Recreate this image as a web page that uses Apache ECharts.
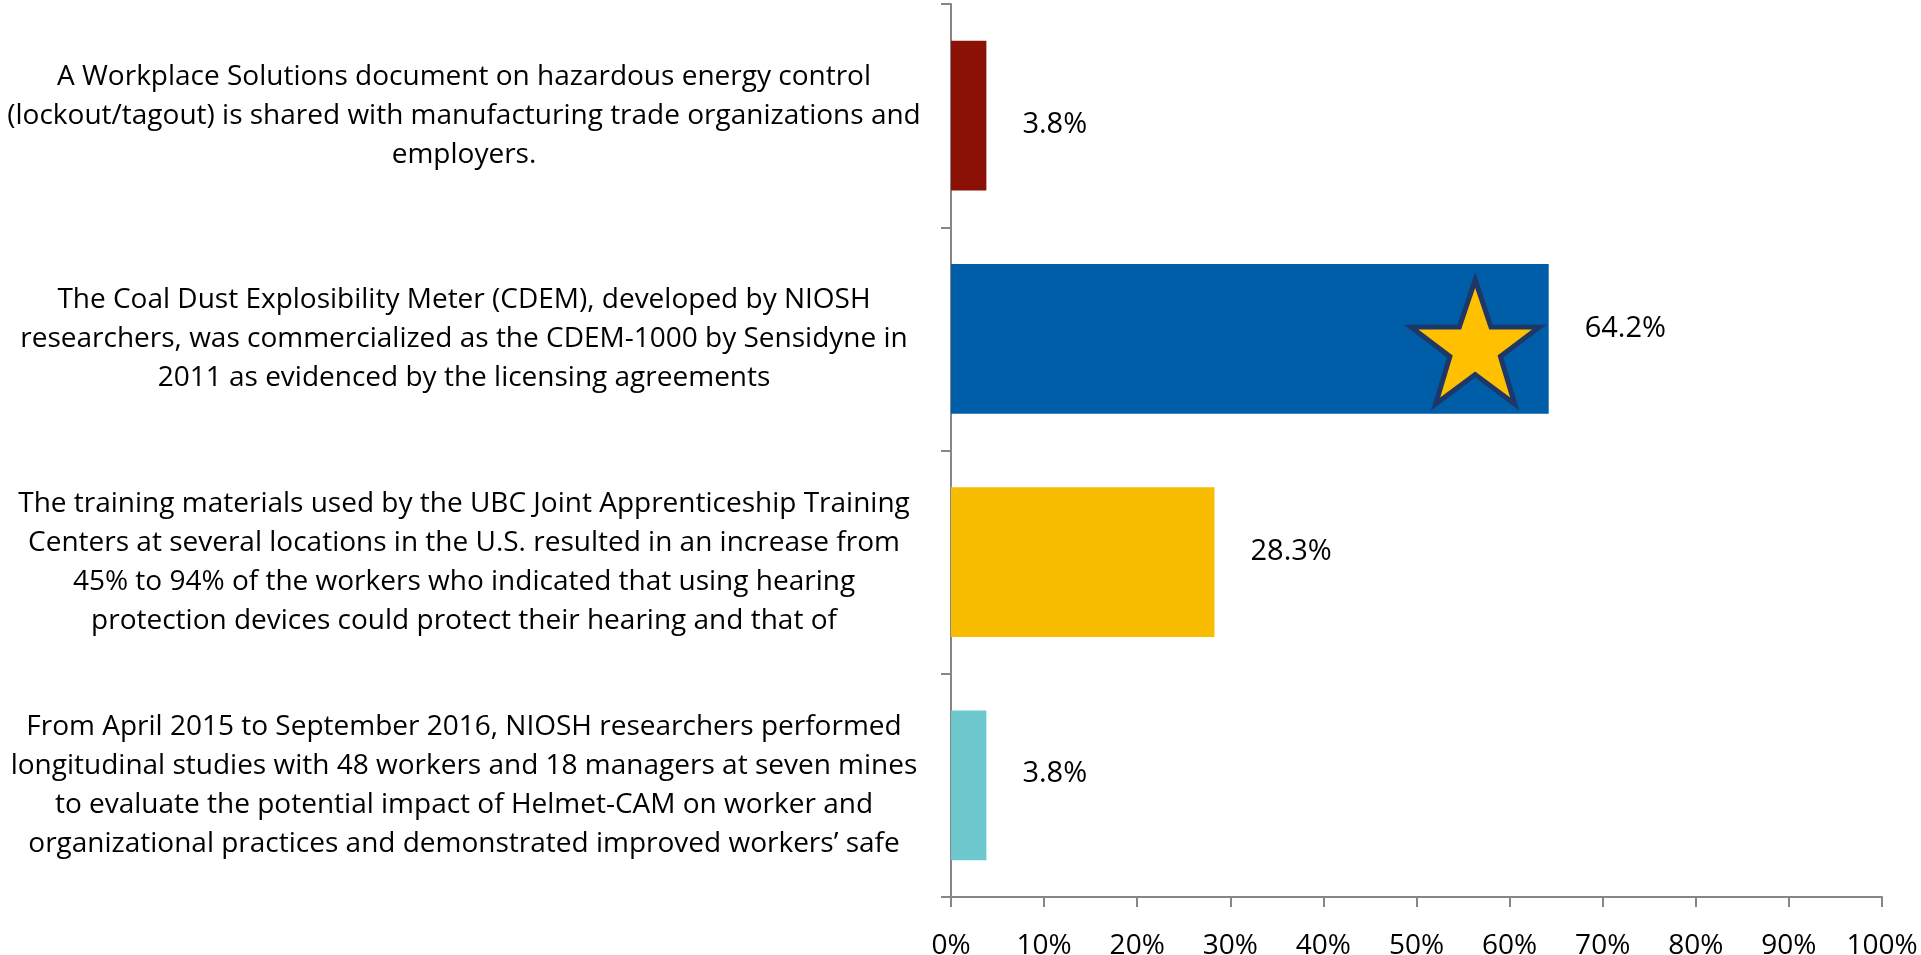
<!DOCTYPE html>
<html>
<head>
<meta charset="utf-8">
<title>NIOSH outcomes</title>
<script src="https://cdn.jsdelivr.net/npm/echarts@6/dist/echarts.min.js"></script>
<style>
    html, body {margin: 0; padding: 0; background: #ffffff;}
    #outcomeChart {width: 1921px; height: 955px;}
</style>
</head>
<body>
<div id="outcomeChart"></div>
<script>
/* 数据 */
var categories = [
    'A Workplace Solutions document on hazardous energy control\n(lockout/tagout) is shared with manufacturing trade organizations and\nemployers.',
    'The Coal Dust Explosibility Meter (CDEM), developed by NIOSH\nresearchers, was commercialized as the CDEM-1000 by Sensidyne in\n2011 as evidenced by the licensing agreements',
    'The training materials used by the UBC Joint Apprenticeship Training\nCenters at several locations in the U.S. resulted in an increase from\n45% to 94% of the workers who indicated that using hearing\nprotection devices could protect their hearing and that of',
    'From April 2015 to September 2016, NIOSH researchers performed\nlongitudinal studies with 48 workers and 18 managers at seven mines\nto evaluate the potential impact of Helmet-CAM on worker and\norganizational practices and demonstrated improved workers\u2019 safe'
];
var shares = [3.8, 64.2, 28.3, 3.8];
var barColors = ['#8B1006', '#005EA9', '#F8BD00', '#6CC8CC'];
var xTicks = [0, 10, 20, 30, 40, 50, 60, 70, 80, 90, 100];
// 星标位置 (数值, 类目)
var starX = [56.3];
var starCategory = [categories[1]];

document.addEventListener('DOMContentLoaded', function () {
    outcomeChart();
});

/**
 * 条形图
 */
function outcomeChart() {
    var myChart = echarts.init(document.getElementById('outcomeChart'));
    // 数据标签上下微调
    var labelShift = [9, -10, -10, -12];
    var barData = shares.map(function (v, i) {
        return {
            value: v,
            itemStyle: {color: barColors[i]},
            label: {offset: [0, labelShift[i]]}
        };
    });
    // 第二个类目文字略往下
    var yData = categories.map(function (c, i) {
        return i === 1 ? {value: c, textStyle: {align: 'center', padding: [10, 0, 0, 0]}} : c;
    });
    var starPath = 'path://M50,0 L61.8,34.5 L97.6,34.5 L68.8,55.9 L79.4,90.5 L50,69.1 L20.6,90.5 L31.2,55.9 L2.4,34.5 L38.2,34.5 Z';
    var option = {
        animation: false,
        grid: {
            left: 951,
            right: 39,
            top: 4,
            bottom: 58,
            containLabel: false,
            outerBoundsMode: 'none'
        },
        xAxis: {
            type: 'value',
            min: xTicks[0],
            max: xTicks[xTicks.length - 1],
            interval: 10,
            splitLine: {show: false},
            axisLine: {show: true, lineStyle: {color: '#868686', width: 2}},
            axisTick: {show: true, length: 10, lineStyle: {color: '#868686', width: 2}},
            axisLabel: {
                margin: 35,
                fontFamily: 'Open Sans, sans-serif',
                fontSize: 28,
                color: '#000000',
                formatter: '{value}%'
            }
        },
        yAxis: {
            type: 'category',
            inverse: true,
            data: yData,
            axisLine: {show: true, lineStyle: {color: '#868686', width: 2}},
            axisTick: {show: true, length: 10, lineStyle: {color: '#868686', width: 2}},
            axisLabel: {
                margin: 487,
                align: 'center',
                fontFamily: 'Open Sans, sans-serif',
                fontSize: 28,
                lineHeight: 39,
                color: '#000000'
            }
        },
        series: [
            {
                type: 'bar',
                data: barData,
                barCategoryGap: '33%',
                label: {
                    show: true,
                    position: 'right',
                    distance: 36,
                    fontFamily: 'Open Sans, sans-serif',
                    fontSize: 29,
                    color: '#000000',
                    formatter: '{c}%'
                }
            },
            {
                type: 'scatter',
                symbol: starPath,
                symbolSize: [128, 124],
                symbolOffset: [0, 3],
                z: 5,
                itemStyle: {
                    color: '#FFC000',
                    opacity: 1,
                    borderColor: '#1E3766',
                    borderWidth: 5
                },
                data: starX.map(function (x, i) {
                    return [x, starCategory[i]];
                })
            }
        ]
    };
    if (option && typeof option === "object") {
        myChart.setOption(option, true);
    }
    window.addEventListener('resize', function () {
        myChart.resize();
    });
}
</script>
</body>
</html>
